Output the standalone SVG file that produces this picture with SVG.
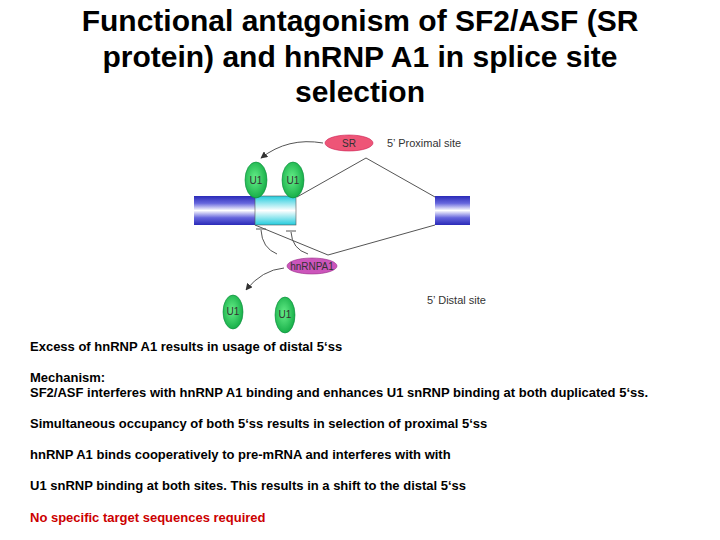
<svg xmlns="http://www.w3.org/2000/svg" width="720" height="540" viewBox="0 0 720 540">
<defs>
<linearGradient id="blueEx" x1="0" y1="0" x2="0" y2="1">
<stop offset="0" stop-color="#2a2ab8"/>
<stop offset="0.25" stop-color="#6666dd"/>
<stop offset="0.5" stop-color="#ffffff"/>
<stop offset="0.75" stop-color="#6666dd"/>
<stop offset="1" stop-color="#2a2ab8"/>
</linearGradient>
<linearGradient id="cyanEx" x1="0" y1="0" x2="0" y2="1">
<stop offset="0" stop-color="#22ccdd"/>
<stop offset="0.5" stop-color="#ffffff"/>
<stop offset="1" stop-color="#22ccdd"/>
</linearGradient>
<radialGradient id="green" cx="0.45" cy="0.45" r="0.6">
<stop offset="0" stop-color="#66ee88"/>
<stop offset="1" stop-color="#11aa44"/>
</radialGradient>
<marker id="ah" viewBox="0 0 10 10" refX="9" refY="5" markerWidth="7" markerHeight="7" orient="auto">
<path d="M0,0 L10,5 L0,10 z" fill="#333"/>
</marker>
<style>
.title{font-family:"Liberation Sans",Arial,sans-serif;font-weight:bold;font-size:30px;fill:#000;text-anchor:middle}
.body{font-family:"Liberation Sans",Arial,sans-serif;font-weight:bold;font-size:13px;fill:#000}
.red{fill:#cc0000}
.lbl{font-family:"Liberation Sans",Arial,sans-serif;font-size:11px;fill:#333}
.in{font-family:"Liberation Sans",Arial,sans-serif;font-size:10px;fill:#333;text-anchor:middle}
.u1{fill:url(#green);stroke:#0a8a3a;stroke-width:0.6}
.ln{fill:none;stroke:#555;stroke-width:1}
</style>
</defs>
<g id="title">
<text class="title" x="360" y="31">Functional antagonism of SF2/ASF (SR</text>
<text class="title" x="360" y="67">protein) and hnRNP A1 in splice site</text>
<text class="title" x="360" y="102">selection</text>
</g>
<g id="connectors">
<polyline class="ln" points="297,197 366,158 435,197"/>
<polyline class="ln" points="255,225 328,255 435,225"/>
<path class="ln" d="M323,143 Q288,137 261,158" marker-end="url(#ah)"/>
<path class="ln" d="M284,268 Q262,270 246,290" marker-end="url(#ah)"/>
<path class="ln" d="M261,230 Q262,248 277,254"/>
<line class="ln" x1="256" y1="229" x2="266" y2="229"/>
<path class="ln" d="M291,232 Q292,249 308,254"/>
<line class="ln" x1="286" y1="231" x2="296" y2="231"/>
</g>
<g id="exon-left"><rect x="194" y="196" width="61" height="29" fill="url(#blueEx)"/></g>
<g id="exon-alt"><rect x="255" y="196" width="41" height="29" fill="url(#cyanEx)" stroke="#555" stroke-width="0.6"/></g>
<g id="exon-right"><rect x="435" y="196" width="35" height="29" fill="url(#blueEx)"/></g>
<g id="sr"><ellipse cx="349" cy="143" rx="24" ry="8" fill="#ee5577" stroke="#cc2255" stroke-width="0.6"/><text class="in" x="349" y="147">SR</text></g>
<g id="label-proximal"><text class="lbl" x="387" y="147">5’ Proximal site</text></g>
<g id="u1a"><ellipse class="u1" cx="256" cy="180" rx="11" ry="18"/><text class="in" x="256" y="184">U1</text></g>
<g id="u1b"><ellipse class="u1" cx="293" cy="180" rx="11" ry="18"/><text class="in" x="293" y="184">U1</text></g>
<g id="hnrnpa1"><ellipse cx="312" cy="266" rx="25" ry="8" fill="#cc55bb" stroke="#993388" stroke-width="0.6"/><text class="in" x="312" y="270">hnRNPA1</text></g>
<g id="u1c"><ellipse class="u1" cx="233" cy="312" rx="10" ry="17"/><text class="in" x="233" y="315">U1</text></g>
<g id="u1d"><ellipse class="u1" cx="285" cy="315" rx="10" ry="18"/><text class="in" x="285" y="318">U1</text></g>
<g id="label-distal"><text class="lbl" x="427" y="304">5’ Distal site</text></g>
<g id="text">
<text class="body" x="30" y="351">Excess of hnRNP A1 results in usage of distal 5‘ss</text>
<text class="body" x="30" y="382">Mechanism:</text>
<text class="body" x="30" y="397">SF2/ASF interferes with hnRNP A1 binding and enhances U1 snRNP  binding at both duplicated 5‘ss.</text>
<text class="body" x="30" y="428">Simultaneous occupancy of both 5‘ss results in selection of proximal 5‘ss</text>
<text class="body" x="30" y="459">hnRNP A1 binds cooperatively to pre-mRNA and interferes with with</text>
<text class="body" x="30" y="490">U1 snRNP binding at both sites. This results in a shift to the distal 5‘ss</text>
<text class="body red" x="30" y="522">No specific target sequences required</text>
</g>
</svg>
